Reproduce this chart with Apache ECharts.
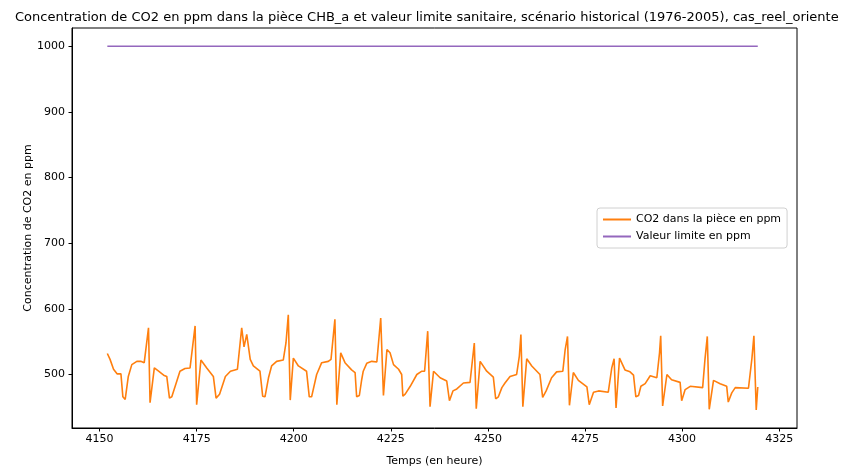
<!DOCTYPE html>
<html>
<head>
<meta charset="utf-8">
<script src="https://cdn.jsdelivr.net/npm/echarts@6/dist/echarts.min.js"></script>
<style>html,body{margin:0;padding:0;background:#fff;}#c{width:857px;height:466px;}</style>
</head>
<body>
<div id="c"></div>
<script>
const titleText = 'Concentration de CO2 en ppm dans la pièce CHB_a et valeur limite sanitaire, scénario historical (1976-2005), cas_reel_oriente';
const seriesNames = ['CO2 dans la pièce en ppm', 'Valeur limite en ppm'];
const xTicks = [4150, 4175, 4200, 4225, 4250, 4275, 4300, 4325];
const yTicks = [500, 600, 700, 800, 900, 1000];
const hours = [
4152.0,4152.7,4153.6,4154.5,4155.5,4156.0,4156.6,4157.4,4158.3,4159.6,4160.6,4161.5,4162.6,4163.0,4164.1,4165.2,4166.5,4167.3,4168.0,4168.6,
4169.9,4170.7,4172.0,4173.3,4174.6,4175.0,4176.1,4177.6,4179.3,4180.0,4180.9,4182.4,4183.7,4185.5,4186.0,4186.6,4187.2,4187.9,4188.8,4189.6,
4191.3,4192.0,4192.6,4193.5,4194.3,4195.6,4197.3,4198.0,4198.6,4199.1,4199.9,4201.2,4203.3,4204.0,4204.6,4205.9,4207.2,4208.9,4209.6,4210.6,
4211.1,4212.1,4213.2,4214.9,4215.8,4216.2,4216.9,4217.5,4217.9,4218.8,4220.1,4221.4,4222.4,4223.1,4224.0,4224.8,4225.7,4227.0,4227.8,4228.1,
4228.7,4230.0,4231.7,4233.0,4233.7,4234.5,4235.1,4236.0,4237.7,4239.4,4240.1,4241.0,4242.0,4243.7,4245.4,4246.5,4247.0,4248.0,4249.7,4251.4,
4252.0,4252.7,4253.6,4254.4,4255.7,4257.4,4258.1,4258.5,4259.0,4260.0,4261.3,4263.4,4264.1,4265.0,4266.4,4267.7,4269.3,4269.9,4270.5,4271.0,
4272.0,4273.3,4275.5,4276.1,4277.2,4278.5,4281.0,4281.9,4282.5,4283.0,4283.9,4285.3,4286.6,4287.5,4288.1,4288.8,4289.4,4290.5,4291.8,4293.5,
4294.2,4294.5,4295.0,4296.1,4297.3,4299.5,4299.9,4300.8,4302.1,4305.3,4305.9,4306.5,4307.0,4308.1,4309.8,4311.5,4311.9,4312.8,4313.7,4317.1,
4318.0,4318.5,4319.1,4319.5
];
const co2 = [
532,523,508,501,501,466,462,497,515,520,520,518,571,457,510,505,499,497,464,466,
490,505,509,510,574,454,522,510,497,464,470,497,505,508,510,571,542,561,523,513,
505,467,466,495,513,520,522,548,591,461,525,513,505,466,466,500,518,520,523,584,
454,533,518,507,503,466,468,492,505,517,520,519,586,468,538,533,515,508,500,467,
470,482,500,505,505,566,451,505,495,490,460,475,478,487,488,548,448,520,505,496,
463,466,480,487,497,500,528,561,451,524,513,500,465,475,495,504,505,538,558,453,
503,491,481,454,473,475,473,510,524,449,525,507,504,499,466,468,482,486,498,495,
533,559,452,500,492,488,460,477,482,480,523,558,447,491,486,482,458,472,480,479,
525,559,446,481
];
const limitHours = [4152.0, 4319.5];
const limitValues = [1000, 1000];

const font = 'DejaVu Sans';
const plain = v => String(v);
const chart = echarts.init(document.getElementById('c'), null, {renderer: 'canvas'});
chart.setOption({
  animation: false,
  backgroundColor: '#ffffff',
  title: {
    text: titleText,
    left: 10, top: 6,
    textStyle: {fontFamily: font, fontSize: 13, fontWeight: 'normal', color: '#000'}
  },
  legend: {
    orient: 'vertical',
    left: 597, top: 208,
    data: seriesNames,
    icon: 'rect',
    itemWidth: 28, itemHeight: 2,
    itemGap: 6,
    padding: [6, 6, 6, 6],
    backgroundColor: '#fff',
    borderColor: '#d0d0d0', borderWidth: 1, borderRadius: 3,
    textStyle: {fontFamily: font, fontSize: 11, color: '#000'}
  },
  grid: {left: 72, right: 60, top: 28, bottom: 38, outerBoundsMode: 'none', show: true, borderColor: '#000', borderWidth: 1, backgroundColor: 'transparent'},
  xAxis: {
    type: 'value', min: 4142.9, max: 4329.6,
    name: 'Temps (en heure)', nameLocation: 'middle', nameGap: 28, nameMoveOverlap: false,
    nameTextStyle: {fontFamily: font, fontSize: 11, color: '#000'},
    axisLine: {show: true, lineStyle: {color: '#000', width: 1}},
    axisTick: {show: true, length: 3.5, lineStyle: {color: '#000'}, customValues: xTicks},
    axisLabel: {fontFamily: font, fontSize: 11, color: '#000', margin: 6, customValues: xTicks, formatter: plain},
    splitLine: {show: false}
  },
  yAxis: {
    type: 'value', min: 418.5, max: 1027.7,
    name: 'Concentration de CO2 en ppm', nameLocation: 'middle', nameGap: 38, nameMoveOverlap: false,
    nameTextStyle: {fontFamily: font, fontSize: 11, color: '#000'},
    axisLine: {show: true, lineStyle: {color: '#000', width: 1}},
    axisTick: {show: true, length: 3.5, lineStyle: {color: '#000'}, customValues: yTicks},
    axisLabel: {fontFamily: font, fontSize: 11, color: '#000', margin: 7, customValues: yTicks, formatter: plain},
    splitLine: {show: false}
  },
  series: [
    {
      name: seriesNames[0], type: 'line', showSymbol: false, symbol: 'none',
      data: hours.map((h, i) => [h, co2[i]]),
      lineStyle: {color: '#ff7f0e', width: 1.6}, itemStyle: {color: '#ff7f0e'}
    },
    {
      name: seriesNames[1], type: 'line', showSymbol: false, symbol: 'none',
      data: limitHours.map((h, i) => [h, limitValues[i]]),
      lineStyle: {color: '#9467bd', width: 1.6}, itemStyle: {color: '#9467bd'}
    }
  ]
});
</script>
</body>
</html>
